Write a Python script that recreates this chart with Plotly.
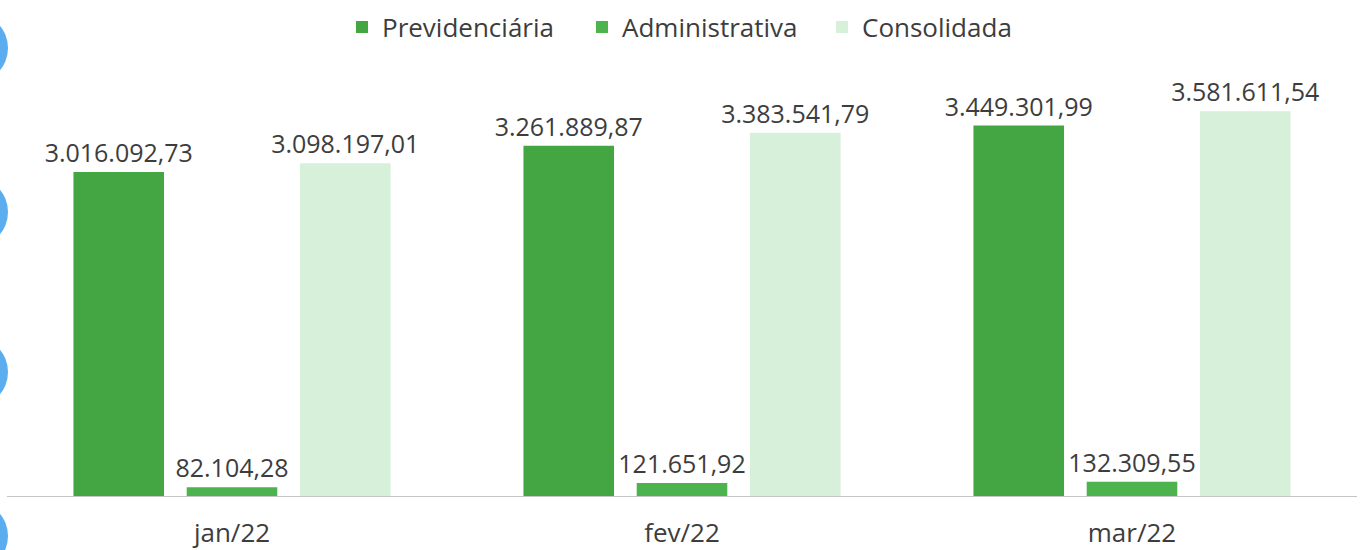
import plotly.graph_objects as go

categories = ["jan/22", "fev/22", "mar/22"]
previdenciaria = [3016092.73, 3261889.87, 3449301.99]
administrativa = [82104.28, 121651.92, 132309.55]
consolidada = [3098197.01, 3383541.79, 3581611.54]

series_names = ["Previdenciária", "Administrativa", "Consolidada"]
colors = ["#43a643", "#4db34f", "#d6f0da"]


def fmt_br(v):
    s = f"{v:,.2f}"
    return s.replace(",", "X").replace(".", ",").replace("X", ".")


FONT = "Open Sans"
TXT = "#3d3d3d"

W, H = 1364, 550
ML, MR, MT, MB = 7, 7, 60, 54
PW, PH = W - ML - MR, H - MT - MB

fig = go.Figure()
for name, vals, col in zip(series_names, [previdenciaria, administrativa, consolidada], colors):
    fig.add_trace(go.Bar(
        name=name, x=categories, y=vals,
        marker=dict(color=col, line=dict(width=0)),
        text=[fmt_br(v) for v in vals],
        textposition="outside",
        constraintext="none",
        outsidetextfont=dict(family=FONT, size=25, color=TXT),
        cliponaxis=False,
    ))

# decorative blue circles on the left edge (binding holes)
shapes = []
for cy in [48, 212, 372, 536]:
    r = 35
    shapes.append(dict(type="circle", xref="paper", yref="paper",
                       x0=(8 - 2 * r - ML) / PW, x1=(8 - ML) / PW,
                       y0=(H - MB - (cy + r)) / PH, y1=(H - MB - (cy - r)) / PH,
                       fillcolor="#5cadf0", line=dict(width=0), layer="above"))

fig.update_layout(
    width=W, height=H,
    margin=dict(l=ML, r=MR, t=MT, b=MB, autoexpand=False),
    paper_bgcolor="white", plot_bgcolor="white",
    barmode="group", bargap=0.245, bargroupgap=0.2,
    font=dict(family=FONT, color=TXT),
    showlegend=True,
    legend=dict(orientation="h", x=(342 - ML) / PW, xanchor="left",
                yref="container", y=1 - 27 / H, yanchor="middle",
                font=dict(family=FONT, size=26, color=TXT),
                entrywidth=195, entrywidthmode="pixels",
                itemsizing="constant", traceorder="normal"),
    xaxis=dict(showline=True, linecolor="#c4c4c4", linewidth=1, ticks="",
               tickfont=dict(family=FONT, size=26, color=TXT), showgrid=False,
               ticklabelstandoff=14, automargin=False),
    yaxis=dict(range=[0, 4.06e6], visible=False, showgrid=False, automargin=False),
    shapes=shapes,
)

fig.write_html("out.html", config={"displayModeBar": False},
               post_script="document.body.style.margin='0';")
